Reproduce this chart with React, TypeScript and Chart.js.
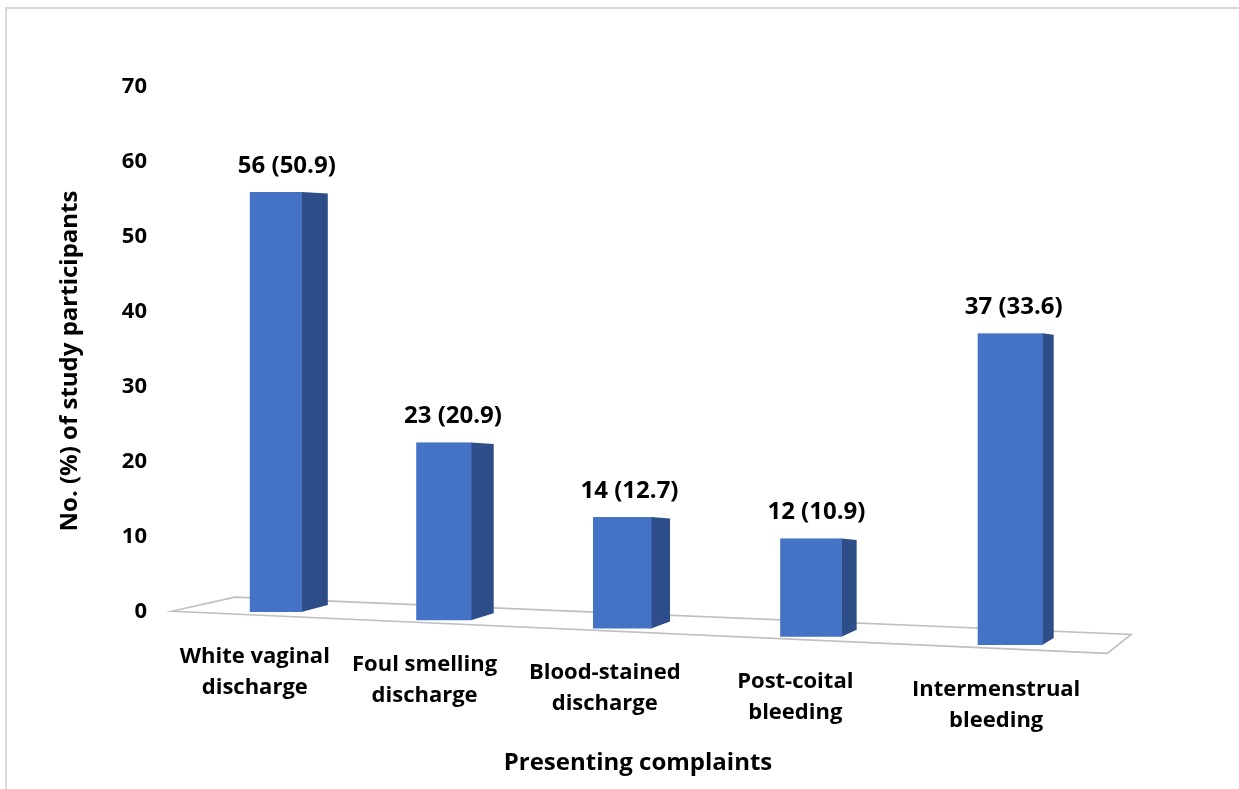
import { useEffect, useRef } from "react";
import { Chart, registerables } from "chart.js";

Chart.register(...registerables);

const categories: string[][] = [
  ["White vaginal", "discharge"],
  ["Foul smelling", "discharge"],
  ["Blood-stained", "discharge"],
  ["Post-coital", "bleeding"],
  ["Intermenstrual", "bleeding"],
];
const counts: number[] = [56, 23, 14, 12, 37];
const percents: number[] = [50.9, 20.9, 12.7, 10.9, 33.6];
const yMin = 0;
const yMax = 70;
const yStep = 10;
const yTitle = "No. (%) of study participants";
const xTitle = "Presenting complaints";

const FONT = "'Open Sans', sans-serif";
const FRONT = "#4472C4";
const SIDE = "#2E4E8A";
const TEXT = "#000000";

const bar3d = {
  id: "bar3d",
  beforeDraw(chart: any) {
    const ctx = chart.ctx;
    ctx.save();
    ctx.fillStyle = "#D9D9D9";
    ctx.fillRect(5, 7, chart.width, 2);
    ctx.fillRect(5, 7, 2, chart.height);
    ctx.restore();
  },
  afterDatasetsDraw(chart: any) {
    const ctx = chart.ctx;
    const meta = chart.getDatasetMeta(0);
    const ys = chart.scales.y;
    const els = meta.data;
    const xFirst = els[0].x;
    const xLast = els[els.length - 1].x;
    const L = xLast - xFirst;
    const zeroY = ys.getPixelForValue(0);
    const drop = 33;
    const baseAt = (x: number) => zeroY + (drop * (x - xFirst)) / L;

    ctx.save();
    // floor
    const fl = [xFirst - 104, baseAt(xFirst - 104) + 4];
    const fr = [xLast + 97, baseAt(xLast + 97) + 4];
    const bl = [xFirst - 41, baseAt(xFirst - 41) - 13];
    const br = [xLast + 121, baseAt(xLast + 121) - 16];
    ctx.beginPath();
    ctx.moveTo(fl[0], fl[1]);
    ctx.lineTo(bl[0], bl[1]);
    ctx.lineTo(br[0], br[1]);
    ctx.lineTo(fr[0], fr[1]);
    ctx.closePath();
    ctx.fillStyle = "#FFFFFF";
    ctx.fill();
    ctx.strokeStyle = "#BFBFBF";
    ctx.lineWidth = 1.6;
    ctx.stroke();

    els.forEach((el: any, i: number) => {
      const u = (el.x - xFirst) / L;
      const xp = xFirst + L * (0.887 * u + 0.113 * u * u);
      const base = zeroY + drop * u;
      const h = (zeroY - ys.getPixelForValue(counts[i])) * (1 + 0.123 * u);
      const top = base - h;
      const w = el.width * (1 + 0.25 * u);
      const sw = 26 - 15 * u;
      const left = xp - w / 2;
      const right = xp + w / 2;

      ctx.fillStyle = SIDE;
      ctx.beginPath();
      ctx.moveTo(right - 0.5, top);
      ctx.lineTo(right + sw, top + 1.5);
      ctx.lineTo(right + sw, base - 7);
      ctx.lineTo(right - 0.5, base);
      ctx.closePath();
      ctx.fill();

      ctx.fillStyle = FRONT;
      ctx.fillRect(left, top, w, h);

      ctx.fillStyle = TEXT;
      ctx.textAlign = "center";
      ctx.textBaseline = "middle";
      ctx.font = `bold 24px ${FONT}`;
      ctx.fillText(`${counts[i]} (${percents[i].toFixed(1)})`, xp + sw / 2 - 2, top - 26);

      ctx.font = `bold 22px ${FONT}`;
      const cx = xp - 21 + 7 * u;
      categories[i].forEach((line, k) => {
        ctx.fillText(line, cx, base + 44.5 + k * 31);
      });
    });

    // axis titles
    ctx.font = `bold 24px ${FONT}`;
    ctx.fillStyle = TEXT;
    ctx.textAlign = "center";
    ctx.textBaseline = "middle";
    ctx.fillText(xTitle, 638, 763);
    ctx.translate(70, 361);
    ctx.rotate(-Math.PI / 2);
    ctx.fillText(yTitle, 0, 0);
    ctx.restore();
  },
};

export default function App() {
  const ref = useRef<HTMLCanvasElement | null>(null);
  useEffect(() => {
    if (!ref.current) return;
    const chart = new Chart(ref.current, {
      type: "bar",
      data: {
        labels: categories,
        datasets: [
          {
            data: counts,
            backgroundColor: "rgba(0,0,0,0)",
            borderWidth: 0,
            barThickness: 52,
          },
        ],
      },
      options: {
        animation: false,
        responsive: true,
        maintainAspectRatio: false,
        events: [],
        layout: { padding: { top: 87, bottom: 177, left: 0, right: 137 } },
        plugins: { legend: { display: false }, tooltip: { enabled: false } },
        scales: {
          x: { display: false },
          y: {
            min: yMin,
            max: yMax,
            afterFit(scale: any) {
              scale.width = 184;
            },
            grid: { display: false, drawTicks: false },
            border: { display: false },
            ticks: {
              stepSize: yStep,
              padding: 37,
              color: TEXT,
              font: { family: FONT, size: 22, weight: "bold" },
            },
          },
        },
      },
      plugins: [bar3d],
    });
    return () => chart.destroy();
  }, []);
  return (
    <div style={{ position: "absolute", left: 0, top: 0, width: 1239, height: 789, background: "#fff" }}>
      <canvas ref={ref} />
    </div>
  );
}
